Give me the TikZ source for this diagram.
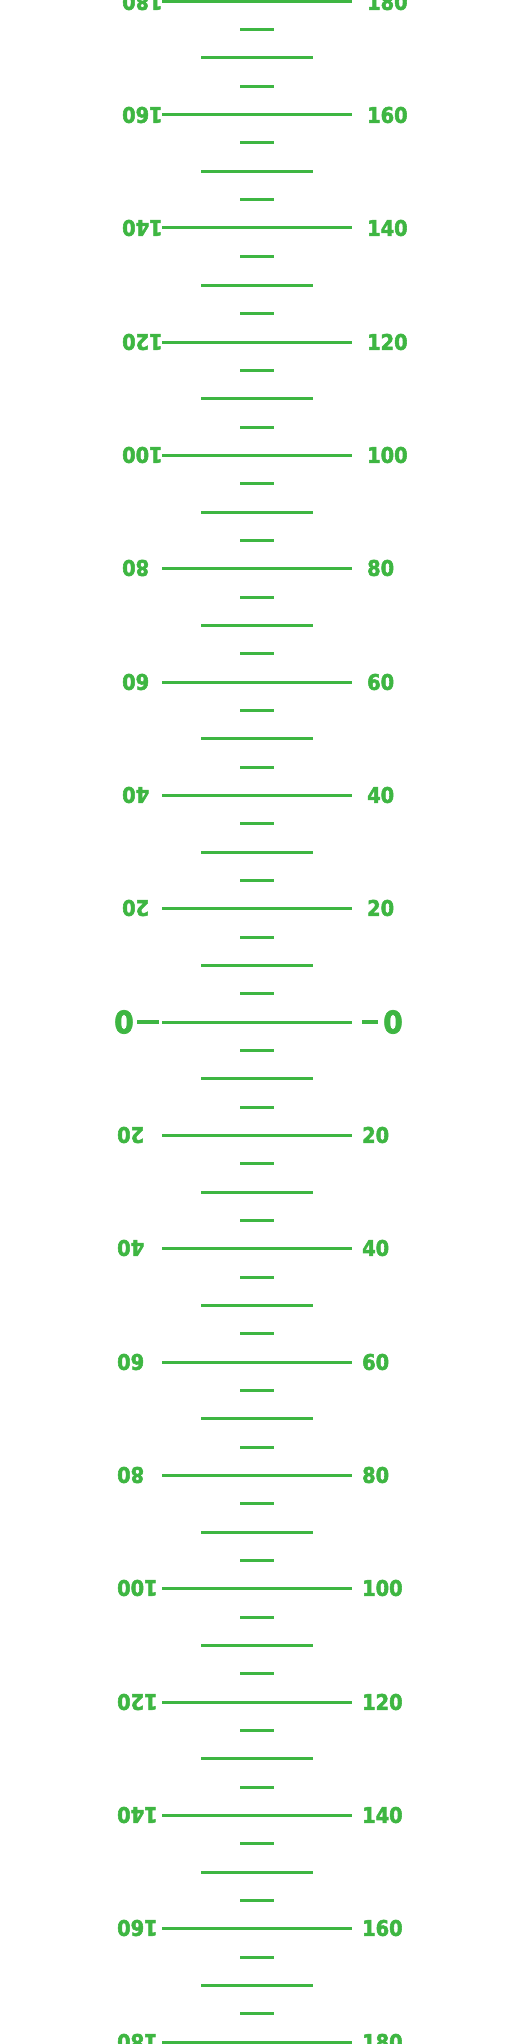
\documentclass[tikz,border=0pt]{standalone}
\usepackage{fontspec}
\newfontfamily\lblfont[FakeStretch=0.9,FakeBold=2.5]{DejaVu Sans Bold}
\definecolor{scalegreen}{RGB}{62,182,66}
\begin{document}
\begin{tikzpicture}[x=1pt,y=-1pt,
  tick/.style={draw=scalegreen, line width=3pt},
  zerodash/.style={draw=scalegreen, line width=4.5pt},
  lbl/.style={text=scalegreen, font=\lblfont\fontsize{21.5}{21.5}\selectfont, inner sep=0pt},
  zlbl/.style={text=scalegreen, font=\lblfont\fontsize{31}{31}\selectfont, inner sep=0pt}]
\useasboundingbox (0,0) rectangle (512,2044);
\clip (0,0) rectangle (512,2044);
\foreach \i in {0,...,72} {
  \pgfmathsetmacro\y{round(1.6+\i*28.333)}
  \pgfmathtruncatemacro\m{mod(\i,4)}
  \pgfmathtruncatemacro\v{abs(180-5*\i)}
  \ifnum\m=0
    \draw[tick] (162,\y) -- (352,\y);
    \ifnum\i=36
      \node[zlbl] (z0l) at (124,\y) {0};
      \node[zlbl] (z0r) at (393,\y) {0};
      \draw[zerodash] (137,\y) -- (159,\y);
      \draw[zerodash] (362,\y) -- (378,\y);
    \else
      \ifnum\i<36
        \node[lbl, anchor=west] (r\i) at (367,\y) {\v};
        \node[lbl, anchor=east, rotate=180] (l\i) at (122,\y) {\v};
      \else
        \node[lbl, anchor=west] (r\i) at (362,\y) {\v};
        \node[lbl, anchor=east, rotate=180] (l\i) at (117,\y) {\v};
      \fi
    \fi
  \else
    \ifnum\m=2
      \draw[tick] (201,\y) -- (313,\y);
    \else
      \draw[tick] (240,\y) -- (274,\y);
    \fi
  \fi
}
\end{tikzpicture}
\end{document}
